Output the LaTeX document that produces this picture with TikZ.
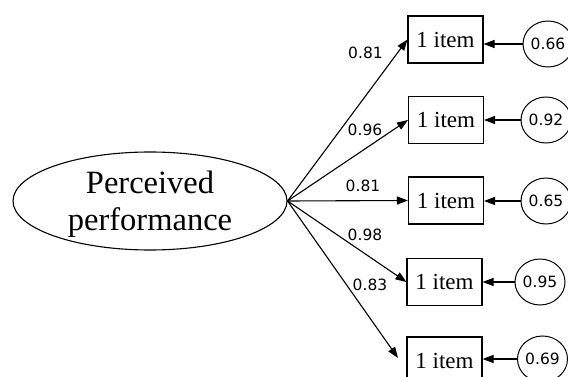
\documentclass[tikz,border=0pt]{standalone}
\usepackage{fontspec}
\setmainfont{Liberation Serif}
\newfontfamily\numfont{DejaVu Sans}
\usetikzlibrary{arrows.meta,shapes.geometric}
\begin{document}
\begin{tikzpicture}[x=1pt,y=-1pt,
  itembox/.style={draw,line width=1.1pt,minimum width=75pt,minimum height=47pt,inner sep=0pt,font=\fontsize{23}{25}\selectfont},
  errc/.style={draw,ellipse,line width=1pt,minimum width=50pt,minimum height=46pt,inner sep=0pt,font=\numfont\fontsize{15.5}{18}\selectfont},
  loadlab/.style={font=\numfont\fontsize{15.5}{18}\selectfont,inner sep=0pt},
  arr/.style={line width=1.1pt,-{Triangle[length=11pt,width=8pt]}}]
\useasboundingbox (0,0) rectangle (568,377);
\clip (0,0) rectangle (568,377);
\fill[white] (0,0) rectangle (568,377);

\node[draw,ellipse,line width=1.1pt,minimum width=274pt,minimum height=98pt,inner sep=0pt,align=center,font=\fontsize{32.5}{37}\selectfont] (pp) at (150,201) {};
\node[align=center,inner sep=0pt,font=\fontsize{32.5}{37}\selectfont] (pptext) at (150,204) {Perceived\\performance};

\node[itembox] (b1) at (445.5,39.5) {1 item};
\node[itembox] (b2) at (446,120) {1 item};
\node[itembox] (b3) at (446,200.5) {1 item};
\node[itembox] (b4) at (444.5,282) {1 item};
\node[itembox] (b5) at (444.5,360.5) {1 item};

\node[errc] (c1) at (548,44) {0.66};
\node[errc] (c2) at (546,120) {0.92};
\node[errc] (c3) at (546,201) {0.65};
\node[errc] (c4) at (540,282) {0.95};
\node[errc] (c5) at (542.5,359) {0.69};

\coordinate (t5) at (398,358);

\draw[arr] (pp.east) -- (b1.west);
\draw[arr] (pp.east) -- (b2.west);
\draw[arr] (pp.east) -- (b3.west);
\draw[arr] (pp.east) -- (b4.west);
\draw[arr] (pp.east) -- (t5);

\draw[arr] (c1.west) -- (b1.east |- c1.west);
\draw[arr] (c2.west) -- (b2.east |- c2.west);
\draw[arr] (c3.west) -- (b3.east |- c3.west);
\draw[arr] (c4.west) -- (b4.east |- c4.west);
\draw[arr] (c5.west) -- (b5.east |- c5.west);

\node[loadlab] (l1) at (365.5,53) {0.81};
\node[loadlab] (l2) at (365,130) {0.96};
\node[loadlab] (l3) at (363,186) {0.81};
\node[loadlab] (l4) at (365,235) {0.98};
\node[loadlab] (l5) at (370,285) {0.83};
\end{tikzpicture}
\end{document}
